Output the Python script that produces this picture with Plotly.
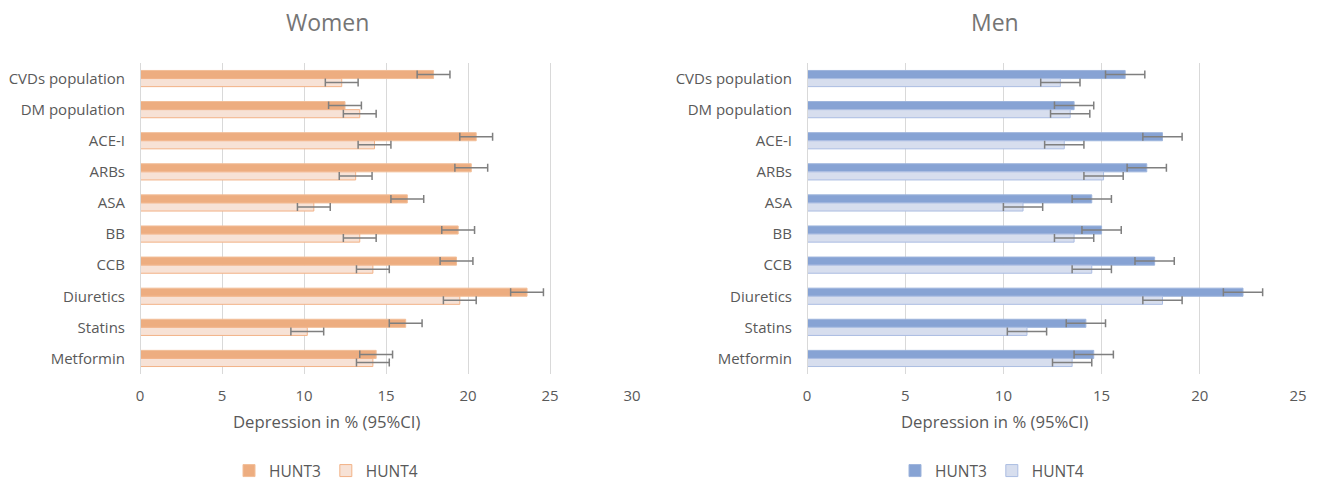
import plotly.graph_objects as go

categories = ["CVDs population", "DM population", "ACE-I", "ARBs", "ASA", "BB", "CCB",
              "Diuretics", "Statins", "Metformin"]
women_hunt3 = [17.9, 12.5, 20.5, 20.2, 16.3, 19.4, 19.3, 23.6, 16.2, 14.4]
women_hunt4 = [12.3, 13.4, 14.3, 13.15, 10.6, 13.4, 14.2, 19.5, 10.2, 14.2]
men_hunt3 = [16.2, 13.6, 18.1, 17.3, 14.5, 15.0, 17.7, 22.2, 14.2, 14.6]
men_hunt4 = [12.9, 13.4, 13.1, 15.1, 11.0, 13.6, 14.5, 18.1, 11.2, 13.5]
err_women_hunt3 = [1.0] * 10
err_women_hunt4 = [1.0] * 10
err_men_hunt3 = [1.0] * 10
err_men_hunt4 = [1.0] * 10
women_ticks = [0, 5, 10, 15, 20, 25, 30]
men_ticks = [0, 5, 10, 15, 20, 25]

W, H = 1318, 482
T, B = 63, 108
PH = H - T - B
BOT = H - B
FONT = "Open Sans"
TXT = "#595959"
ERR = dict(type="data", color="#7f7f7f", thickness=1.5, width=4)

def py(p):
    return (BOT - p) / PH

fig = go.Figure()

def add(vals, errs, name, fill, line, xa, ya, legend):
    fig.add_trace(go.Bar(
        y=categories, x=vals, orientation="h", name=name,
        marker=dict(color=fill, line=dict(color=line, width=1)),
        error_x=dict(array=errs, **ERR),
        xaxis=xa, yaxis=ya, legend=legend,
    ))

add(women_hunt3, err_women_hunt3, "HUNT3", "#EDAD80", "#F2BE98", "x", "y", "legend")
add(women_hunt4, err_women_hunt4, "HUNT4", "#F7E2D6", "#F2B287", "x", "y", "legend")
add(men_hunt3, err_men_hunt3, "HUNT3", "#87A3D4", "#9DB4DC", "x2", "y2", "legend2")
add(men_hunt4, err_men_hunt4, "HUNT4", "#D7DEEE", "#ABBDE2", "x2", "y2", "legend2")

xcommon = dict(showgrid=True, gridcolor="#D9D9D9", gridwidth=1, zeroline=False,
               tickfont=dict(size=15, color=TXT, family=FONT), ticks="",
               ticklabelstandoff=11, showline=False, automargin=False)
ycommon = dict(autorange="reversed", showgrid=False, zeroline=False,
               tickfont=dict(size=15, color=TXT, family=FONT), ticks="",
               ticklabelstandoff=14, showline=False, automargin=False)

legfont = dict(size=15.5, color=TXT, family=FONT)

fig.update_layout(
    width=W, height=H,
    margin=dict(l=0, r=0, t=T, b=B, autoexpand=False),
    paper_bgcolor="white", plot_bgcolor="white",
    barmode="group", bargap=0.48, bargroupgap=0,
    font=dict(family=FONT, color=TXT),
    xaxis=dict(domain=[140 / W, 632 / W], range=[0, 30], tickvals=women_ticks, **xcommon),
    yaxis=dict(anchor="x", **ycommon),
    xaxis2=dict(domain=[807 / W, 1298 / W], range=[0, 25], tickvals=men_ticks, **xcommon),
    yaxis2=dict(anchor="x2", **ycommon),
    legend=dict(orientation="h", x=326 / W, xanchor="center", y=py(471), yanchor="middle",
                font=legfont, itemwidth=30),
    legend2=dict(orientation="h", x=992 / W, xanchor="center", y=py(471), yanchor="middle",
                 font=legfont, itemwidth=30),
    showlegend=True,
)

for xa, ya in (("x", "y"), ("x2", "y2")):
    fig.add_shape(type="line", xref=xa, yref=f"{ya} domain", x0=0, x1=0, y0=0, y1=1,
                  line=dict(color="#D9D9D9", width=2))

for text, cx in (("Women", 327), ("Men", 995)):
    fig.add_annotation(text=text, xref="paper", yref="paper", x=cx / W, y=py(22),
                       showarrow=False, font=dict(size=23, color="#757575", family=FONT),
                       xanchor="center", yanchor="middle")
    fig.add_annotation(text="Depression in % (95%CI)", xref="paper", yref="paper",
                       x=(cx - 1) / W, y=py(421), showarrow=False,
                       font=dict(size=16.7, color=TXT, family=FONT),
                       xanchor="center", yanchor="middle")

fig.write_html("out.html", config={"displayModeBar": False},
               post_script="document.body.style.margin='0';document.body.style.padding='0';")
